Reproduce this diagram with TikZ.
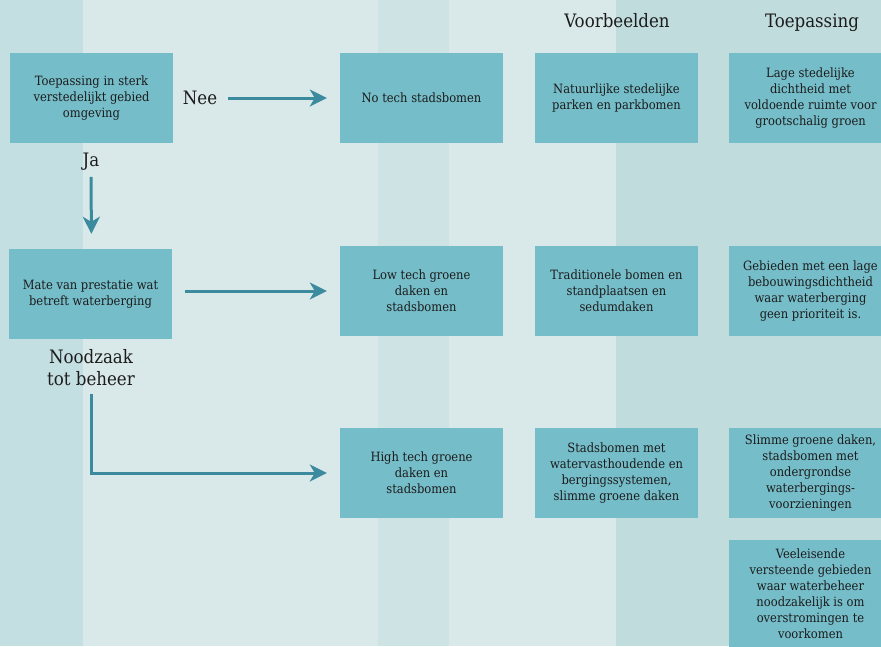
\documentclass[tikz,border=0pt]{standalone}
\usepackage{fontspec}
\setmainfont{DejaVu Serif Condensed}
\usetikzlibrary{arrows.meta}
\definecolor{bandA}{HTML}{C4DFE1}
\definecolor{bandB}{HTML}{D9E9EA}
\definecolor{bandC}{HTML}{CEE3E4}
\definecolor{bandD}{HTML}{C1DCDD}
\definecolor{boxfill}{HTML}{75BDC9}
\definecolor{arrowc}{HTML}{3B8A9E}
\definecolor{txt}{HTML}{1C1C1C}
\tikzset{
  box/.style={fill=boxfill, minimum width=163pt, minimum height=90pt, inner sep=0pt, align=center, text=txt, font=\fontsize{12.8}{16}\selectfont},
  lbl/.style={text=txt, font=\fontsize{18.5}{22}\selectfont, align=center, inner sep=1pt},
  hdr/.style={text=txt, font=\fontsize{18.5}{22}\selectfont, inner sep=0pt, anchor=base},
  flow/.style={draw=arrowc, line width=3pt, -{Stealth[length=17pt,width=17pt,inset=5pt]}},
}
\begin{document}
\begin{tikzpicture}[x=1pt,y=-1pt]
\useasboundingbox (0,0) rectangle (881,646);
\clip (0,0) rectangle (881,646);
% background bands
\fill[bandA] (0,0) rectangle (83,646);
\fill[bandB] (83,0) rectangle (378,646);
\fill[bandC] (378,0) rectangle (449,646);
\fill[bandB] (449,0) rectangle (616,646);
\fill[bandD] (616,0) rectangle (881,646);
% headers
\node[hdr] (h1) at (617,27) {Voorbeelden};
\node[hdr] (h2) at (812,27) {Toepassing};
% boxes
\node[box] (q1) at (91.5,98) {Toepassing in sterk\\verstedelijkt gebied\\omgeving};
\node[box] (nt) at (421.5,98) {No tech stadsbomen};
\node[box] (v1) at (616.5,98) {Natuurlijke stedelijke\\parken en parkbomen};
\node[box] (t1) at (810.5,98) {Lage stedelijke\\dichtheid met\\voldoende ruimte voor\\grootschalig groen};
\node[box] (q2) at (90.5,294) {Mate van prestatie wat\\betreft waterberging};
\node[box] (lt) at (421.5,291) {Low tech groene\\daken en\\stadsbomen};
\node[box] (v2) at (616.5,291) {Traditionele bomen en\\standplaatsen en\\sedumdaken};
\node[box] (t2) at (810.5,291) {Gebieden met een lage\\bebouwingsdichtheid\\waar waterberging\\geen prioriteit is.};
\node[box] (ht) at (421.5,473) {High tech groene\\daken en\\stadsbomen};
\node[box] (v3) at (616.5,473) {Stadsbomen met\\watervasthoudende en\\bergingssystemen,\\slimme groene daken};
\node[box] (t3) at (810.5,473) {Slimme groene daken,\\stadsbomen met\\ondergrondse\\waterbergings-\\voorzieningen};
\node[box, minimum height=108pt] (t4) at (810.5,594) {Veeleisende\\versteende gebieden\\waar waterbeheer\\noodzakelijk is om\\overstromingen te\\voorkomen};
% labels
\node[lbl] (nee) at (200,98) {Nee};
\node[lbl] (ja) at (91,162) {Ja};
\node[lbl] (nood) at (91,368) {Noodzaak\\tot beheer};
% connectors
\draw[flow, shorten <=10pt, shorten >=13pt] (nee.east) -- (nt.west);
\draw[flow, shorten <=5pt, shorten >=15pt] (ja.south) -- (q1.south |- q2.north);
\draw[flow, shorten <=13pt, shorten >=13pt] (q2.east |- lt.west) -- (lt.west);
\draw[flow, shorten <=7pt, shorten >=13pt] (nood.south) |- (ht.west);
\end{tikzpicture}
\end{document}
